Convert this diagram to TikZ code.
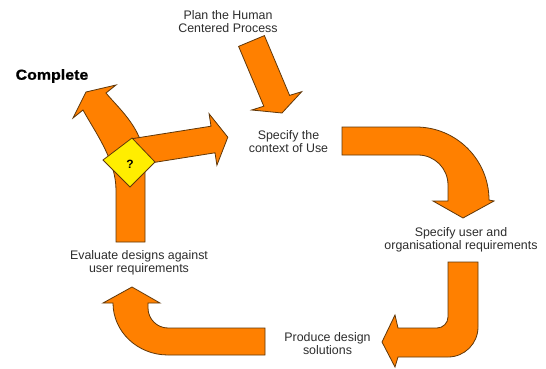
\documentclass[tikz,border=0pt]{standalone}
\usepackage{fontspec}
\setmainfont{Liberation Sans}
\newfontfamily\blackfont{Liberation Sans}[FakeStretch=1.1,FakeBold=1]
\definecolor{arroworange}{RGB}{255,128,0}
\definecolor{arrowedge}{RGB}{95,55,10}
\definecolor{qyellow}{RGB}{255,238,0}
\definecolor{txtgray}{RGB}{45,45,45}
\begin{document}
\begin{tikzpicture}[x=1pt,y=-1pt,
  blockarrow/.style={fill=arroworange, draw=arrowedge, line width=0.8pt, line join=miter},
  txtlabel/.style={font=\fontsize{12.4}{13}\selectfont, text=txtgray, align=center, inner sep=0pt},
  qdiamond/.style={fill=qyellow, draw=arrowedge, line width=0.8pt, line join=miter}
]
\path[use as bounding box, fill=white] (0,0) rectangle (546,369);

% Plan -> context
\draw[blockarrow] (238.6,46.4) -- (264.4,35.6) -- (289.6,95.4) -- (301.7,91.7)
  -- (282,113) -- (251.7,110) -- (263.8,106.2) -- cycle;

% context -> user requirements
\draw[blockarrow] (342,127) -- (416,127) .. controls (456.3,127) and (489,159.7) .. (489,200)
  -- (494,201) -- (463,218) -- (433,201) -- (448,201) -- (448,185)
  .. controls (448,168.4) and (434.6,155) .. (418,155) -- (342,155) -- cycle;

% requirements -> produce design
\draw[blockarrow] (478,262) -- (478,327) .. controls (478,343.6) and (464.6,357) .. (448,357)
  -- (398,357) -- (395,367) -- (382,342) -- (395,315) -- (398,328) -- (437,328)
  .. controls (443,328) and (448,323) .. (448,317) -- (448,262) -- cycle;

% produce -> evaluate
\draw[blockarrow] (265,328) -- (168,328) .. controls (157,328) and (148,319) .. (148,308)
  -- (148,303) -- (160,303) -- (132,287) -- (103,303) -- (113,303)
  .. controls (113,331.7) and (137.6,355) .. (168,355) -- (265,355) -- cycle;

% evaluate -> complete (curved up-left)
\draw[blockarrow] (116,242) -- (116,190) .. controls (116,160) and (95,132) .. (83,110)
  -- (73,118) -- (86,92) -- (116,85) -- (106,93)
  .. controls (120,110) and (145,130) .. (145,165) -- (145,242) -- cycle;

% decision -> context (back into the loop)
\draw[blockarrow] (132,138.7) -- (211,126.2) -- (209.1,113.8) -- (227.8,137.2)
  -- (216.9,165.2) -- (215,152.8) -- (136,165.3) -- cycle;

% decision diamond
\draw[qdiamond] (132,138) -- (155,162) -- (130,187) -- (103,160) -- cycle;
\node[font=\fontsize{12}{12}\selectfont\bfseries, inner sep=0pt] (q) at (130,164) {?};

% texts
\node[font=\fontsize{14.5}{15}\selectfont\blackfont\bfseries, inner sep=0pt] (complete) at (52,76) {Complete};
\node[txtlabel] (plan) at (228,21.5) {Plan the Human\\Centered Process};
\node[txtlabel] (context) at (288.5,141.5) {Specify the\\context of Use};
\node[txtlabel] (userreq) at (461,240) {Specify user and\\organisational requirements};
\node[txtlabel] (produce) at (327.5,343.5) {Produce design\\solutions};
\node[txtlabel] (evaluate) at (139,262.5) {Evaluate designs against\\user requirements};
\end{tikzpicture}
\end{document}
